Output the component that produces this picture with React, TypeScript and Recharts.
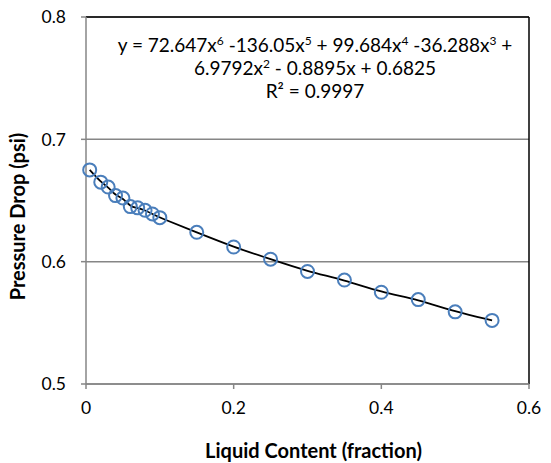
import { ComposedChart, Scatter, Line, XAxis, YAxis, CartesianGrid, ReferenceLine } from 'recharts';

const liquidContent = [0.005, 0.02, 0.03, 0.04, 0.05, 0.06, 0.07, 0.08, 0.09, 0.1, 0.15, 0.2, 0.25, 0.3, 0.35, 0.4, 0.45, 0.5, 0.55];
const pressureDrop = [0.675, 0.665, 0.661, 0.654, 0.652, 0.645, 0.644, 0.642, 0.639, 0.636, 0.624, 0.612, 0.602, 0.592, 0.585, 0.575, 0.569, 0.559, 0.552];
const xTicks = [0, 0.2, 0.4, 0.6];
const yTicks = [0.5, 0.6, 0.7, 0.8];

const data = liquidContent.map((x, i) => ({ x, y: pressureDrop[i] }));

const FONT = 'Lato, "Open Sans", sans-serif';
const AXIS = '#868686';
const BLUE = '#4a7ebb';

const sup = { fontSize: 12, verticalAlign: 'super', lineHeight: 0 } as const;

export default function App() {
  return (
    <div style={{ position: 'absolute', left: 0, top: 0, width: 551, height: 463, background: '#fff' }}>
      <ComposedChart width={551} height={463} data={data} margin={{ top: 17, right: 22, bottom: 0, left: 0 }}>
        <CartesianGrid horizontal vertical={false} stroke={AXIS} strokeWidth={1.5} />
        <XAxis
          type="number"
          dataKey="x"
          domain={[0, 0.6]}
          ticks={xTicks}
          height={79}
          stroke={AXIS}
          strokeWidth={1.5}
          tickSize={5}
          tickMargin={13}
          tick={{ fill: '#000', fontSize: 17.5, fontFamily: FONT }}
          tickFormatter={(v: number) => String(v)}
          label={{ value: 'Liquid Content (fraction)', position: 'insideBottom', offset: 5, dx: 6, style: { fill: '#000', fontSize: 20, fontWeight: 700, fontFamily: FONT } }}
        />
        <YAxis
          type="number"
          dataKey="y"
          domain={[0.5, 0.8]}
          ticks={yTicks}
          width={86}
          stroke={AXIS}
          strokeWidth={1.5}
          tickSize={5}
          tickMargin={15}
          tick={{ fill: '#000', fontSize: 17.5, fontFamily: FONT }}
          tickFormatter={(v: number) => String(v)}
          label={{ value: 'Pressure Drop (psi)', angle: -90, position: 'insideLeft', offset: 18, dy: 16, style: { fill: '#000', fontSize: 20, fontWeight: 700, fontFamily: FONT, textAnchor: 'middle' } }}
        />
        <ReferenceLine y={0.8} stroke="#000" strokeWidth={1.5} />
        <ReferenceLine x={0.6} stroke="#000" strokeWidth={1.5} />
        <Scatter
          dataKey="y"
          isAnimationActive={false}
          shape={(p: any) => <circle cx={p.cx} cy={p.cy} r={6.5} fill="none" stroke={BLUE} strokeWidth={2} />}
        />
        <Line type="basis" dataKey="y" stroke="#000" strokeWidth={1.8} dot={false} isAnimationActive={false} />
      </ComposedChart>
      <div
        style={{
          position: 'absolute',
          left: 100,
          top: 33,
          width: 430,
          textAlign: 'center',
          fontFamily: FONT,
          fontSize: 19,
          lineHeight: '23px',
          color: '#000',
        }}
      >
        y = 72.647x<span style={sup}>6</span> -136.05x<span style={sup}>5</span> + 99.684x<span style={sup}>4</span> -36.288x<span style={sup}>3</span> +
        <br />
        6.9792x<span style={sup}>2</span> - 0.8895x + 0.6825
        <br />
        R² = 0.9997
      </div>
    </div>
  );
}
